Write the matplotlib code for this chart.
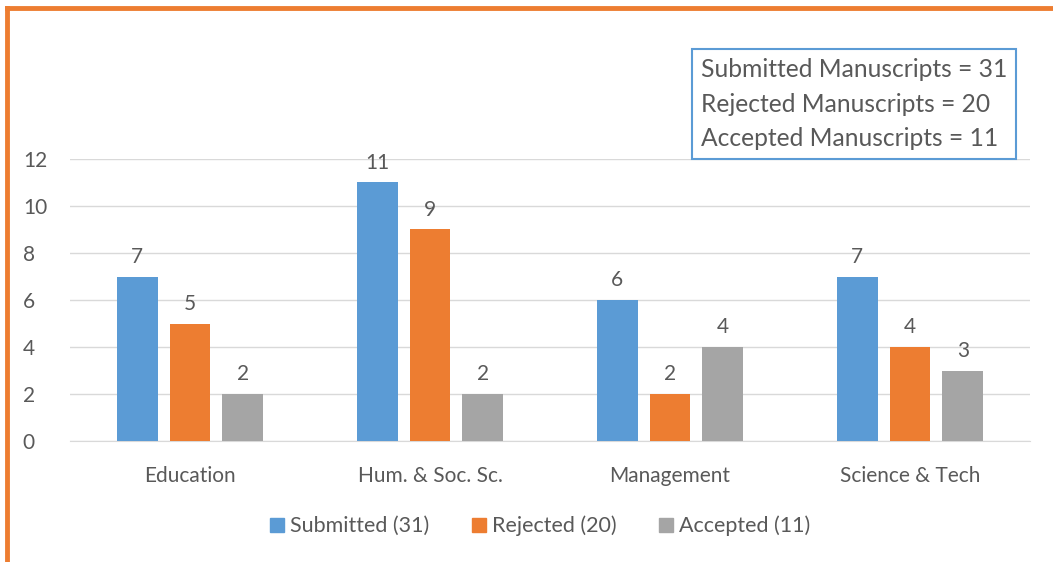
import matplotlib.pyplot as plt
import numpy as np
from matplotlib.lines import Line2D

plt.rcParams['font.family'] = ['Lato', 'DejaVu Sans']

categories = ['Education', 'Hum. & Soc. Sc.', 'Management', 'Science & Tech']
submitted = [7, 11, 6, 7]
rejected = [5, 9, 2, 4]
accepted = [2, 2, 4, 3]
series_labels = ['Submitted (31)', 'Rejected (20)', 'Accepted (11)']
box_lines = ['Submitted Manuscripts = 31',
             'Rejected Manuscripts = 20',
             'Accepted Manuscripts = 11']

colors = ['#5B9BD5', '#ED7D31', '#A5A5A5']
text_color = '#595959'

fig = plt.figure(figsize=(10.53, 5.62), dpi=100)
ax = fig.add_axes([70 / 1053, 121 / 562, 960 / 1053, 282 / 562])

x = np.arange(len(categories))
width = 0.17
step = 0.22
for i, (vals, col, lab) in enumerate(zip([submitted, rejected, accepted], colors, series_labels)):
    pos = x + (i - 1) * step
    ax.bar(pos, vals, width, color=col, label=lab, zorder=3)
    for p, v in zip(pos, vals):
        ax.text(p, v + 0.42, str(v), ha='center', va='bottom',
                fontsize=15, color=text_color)

ax.set_xlim(-0.5, len(categories) - 0.5)
ax.set_ylim(0, 12)
ax.set_yticks(range(0, 13, 2))
ax.set_xticks(x)
ax.set_xticklabels(categories)
ax.tick_params(axis='both', length=0, labelsize=15, labelcolor=text_color)
ax.tick_params(axis='x', pad=18)
ax.tick_params(axis='y', pad=34)
for lab in ax.get_yticklabels():
    lab.set_horizontalalignment('left')
ax.grid(axis='y', color='#D9D9D9', linewidth=1, zorder=0)
for s in ['top', 'right', 'left']:
    ax.spines[s].set_visible(False)
ax.spines['bottom'].set_color('#D9D9D9')

handles = [Line2D([0], [0], marker='s', linestyle='', markersize=10,
                  markerfacecolor=c, markeredgecolor=c) for c in colors]
fig.legend(handles, series_labels, loc='center', bbox_to_anchor=(538 / 1053, 1 - 526 / 562),
           ncol=3, frameon=False, fontsize=15.5, labelcolor=text_color,
           handletextpad=0.1, columnspacing=1.8, handlelength=1.0)

fig.text(701 / 1053, 1 - 104 / 562, '\n'.join(box_lines), ha='left', va='center',
         fontsize=17.7, color=text_color, linespacing=1.62,
         bbox=dict(boxstyle='square,pad=0.35', facecolor='white', edgecolor='#5B9BD5', linewidth=1.5))

# orange frame on top and left
fig.add_artist(Line2D([7 / 1053, 1], [1 - 8 / 562, 1 - 8 / 562], color='#ED7D31', linewidth=3.5))
fig.add_artist(Line2D([7 / 1053, 7 / 1053], [0, 1 - 8 / 562], color='#ED7D31', linewidth=3.5))

fig.savefig('out.png', dpi=100)
